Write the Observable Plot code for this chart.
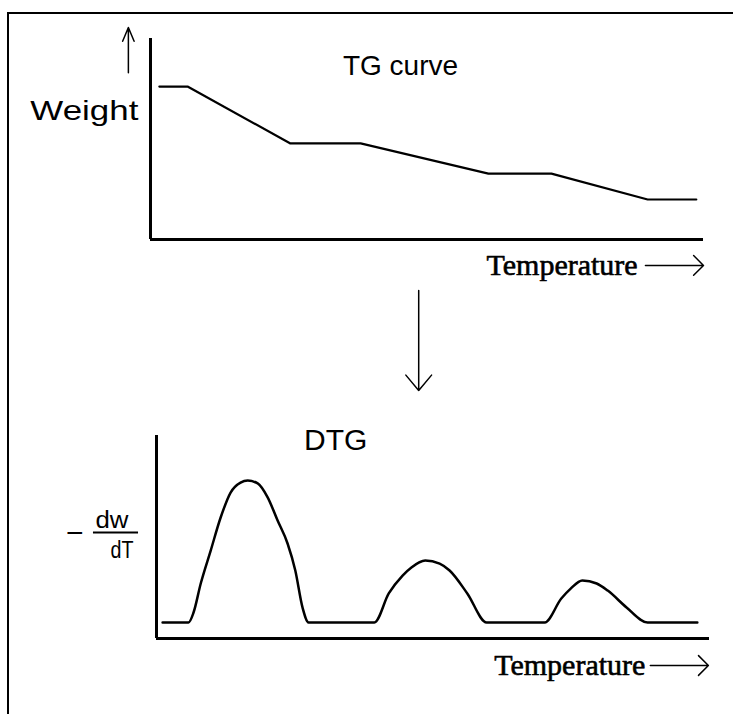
<!DOCTYPE html>
<html>
<head>
<meta charset="utf-8">
<script src="https://cdn.jsdelivr.net/npm/d3@7"></script>
<script src="https://cdn.jsdelivr.net/npm/@observablehq/plot@0.6"></script>
<style>
  html, body { margin: 0; padding: 0; background: #fff; }
  #fig { position: relative; width: 733px; height: 714px; overflow: hidden; background: #fff; }
  #frame { position: absolute; left: 7px; top: 12px; width: 740px; height: 720px;
           border-left: 2px solid #000; border-top: 2px solid #000; }
  .panel { position: absolute; left: 0; }
</style>
</head>
<body>
<div id="fig"><div id="frame"></div></div>
<script>
// ---- Data (arbitrary units: temperature 0–100, signal 0–100) ----
const tgTemperature = [1.6, 6.7, 25.3, 38.0, 61.1, 72.5, 89.9, 98.7];
const tgWeight      = [76.1, 76.1, 47.8, 47.8, 32.8, 32.8, 19.9, 19.9];

const dtgTemperature = [1.1, 5.8, 6.7, 8.0, 9.8, 11.6, 13.4, 15.2, 16.5, 18.3, 20.1, 21.9, 23.7, 25.1, 26.4, 27.5,
                        39.4, 42.0, 44.5, 46.1, 48.6, 51.2, 53.0, 56.2, 59.7,
                        70.2, 73.2, 74.9, 77.0, 79.6, 81.6, 85.0, 88.8, 97.8];
const dtgRate        = [7.9, 7.9, 12.8, 27.1, 43.3, 59.6, 71.9, 76.8, 77.8, 76.4, 69.5, 58.1, 46.8, 33.5, 15.3, 7.9,
                        7.9, 22.2, 31.0, 35.0, 38.4, 36.9, 33.5, 22.2, 7.9,
                        7.9, 19.7, 24.6, 28.6, 27.1, 23.6, 15.3, 7.9, 7.9];

const tgTitle = ["TG curve"];
const tgYLabel = ["Weight"];
const xLabel = ["Temperature"];
const dtgTitle = ["DTG"];
const dtgNumerator = ["dw"];
const dtgDenominator = ["dT"];
const minusSign = ["\u2212"];

const tg = tgTemperature.map((t, i) => ({t, w: tgWeight[i]}));
const dtg = dtgTemperature.map((t, i) => ({t, r: dtgRate[i]}));

const SANS = "Liberation Sans, Arial, sans-serif";
const SERIF = "Liberation Serif, Times New Roman, serif";

const panel1 = Plot.plot({
  width: 733, height: 400,
  marginLeft: 150, marginRight: 30, marginTop: 38, marginBottom: 161,
  x: {domain: [0, 100], axis: null},
  y: {domain: [0, 100], axis: null},
  style: {background: "none", overflow: "visible"},
  marks: [
    Plot.ruleX([0], {stroke: "#000", strokeWidth: 3}),
    Plot.ruleY([0], {stroke: "#000", strokeWidth: 3}),
    Plot.line(tg, {x: "t", y: "w", stroke: "#000", strokeWidth: 2.2}),
    Plot.text(tgTitle, {x: 45.2, y: 86.5, text: d => d, fontFamily: SANS, fontSize: 28, fill: "#000"}),
    Plot.text(tgYLabel, {x: -2.2, y: 63.7, text: d => d, textAnchor: "end", fontFamily: SANS, fontSize: 28, fill: "#000"}),
    Plot.arrow([0], {x1: -4, x2: -4, y1: 83, y2: 105.5, headLength: 15, headAngle: 45, stroke: "#000", strokeWidth: 1.5}),
    Plot.text(xLabel, {x: 88.1, y: -12.9, text: d => d, textAnchor: "end", fontFamily: SERIF, fontSize: 30, fill: "#000", stroke: "#000", strokeWidth: 0.6}),
    Plot.arrow([0], {x1: 89.5, x2: 100, y1: -12.9, y2: -12.9, headLength: 14, headAngle: 90, stroke: "#000", strokeWidth: 1.5}),
    Plot.arrow([0], {x1: 48.5, x2: 48.5, y1: -25.4, y2: -75.1, headLength: 20, headAngle: 80, stroke: "#000", strokeWidth: 1.5})
  ]
});

const panel2 = Plot.plot({
  width: 733, height: 314,
  marginLeft: 156, marginRight: 24, marginTop: 35, marginBottom: 76,
  x: {domain: [0, 100], axis: null},
  y: {domain: [0, 100], axis: null},
  style: {background: "none", overflow: "visible"},
  marks: [
    Plot.ruleX([0], {stroke: "#000", strokeWidth: 3}),
    Plot.ruleY([0], {stroke: "#000", strokeWidth: 3}),
    Plot.line(dtg, {x: "t", y: "r", stroke: "#000", strokeWidth: 2.5, curve: "monotone-x"}),
    Plot.text(dtgTitle, {x: 32.4, y: 97.5, text: d => d, fontFamily: SANS, fontSize: 30, fill: "#000"}),
    Plot.text(minusSign, {x: -14.8, y: 51.7, text: d => d, fontFamily: SANS, fontSize: 30, fill: "#000"}),
    Plot.ruleY([52.2], {x1: -11.4, x2: -3.25, stroke: "#000", strokeWidth: 2}),
    Plot.text(dtgNumerator, {x: -8.05, y: 54.2, text: d => d, lineAnchor: "bottom", fontFamily: SANS, fontSize: 23, fill: "#000"}),
    Plot.text(dtgDenominator, {x: -6.24, y: 39.9, text: d => d, lineAnchor: "bottom", fontFamily: SANS, fontSize: 23, fill: "#000"}),
    Plot.text(xLabel, {x: 88.4, y: -13.3, text: d => d, textAnchor: "end", fontFamily: SERIF, fontSize: 30, fill: "#000", stroke: "#000", strokeWidth: 0.6}),
    Plot.arrow([0], {x1: 89.3, x2: 99.8, y1: -13.3, y2: -13.3, headLength: 14, headAngle: 90, stroke: "#000", strokeWidth: 1.5})
  ]
});

// stretch a few labels horizontally to match the wide lettering of the original figure
function stretch(svg, label, length) {
  d3.select(svg).selectAll("text").filter(function() { return this.textContent === label; })
    .attr("textLength", length).attr("lengthAdjust", "spacingAndGlyphs");
}
stretch(panel1, "Weight", 108);
stretch(panel2, "dw", 33);
stretch(panel2, "dT", 23);

const fig = document.getElementById("fig");
panel1.classList.add("panel"); panel1.style.top = "0px";
panel2.classList.add("panel"); panel2.style.top = "400px";
fig.appendChild(panel1);
fig.appendChild(panel2);
</script>
</body>
</html>
